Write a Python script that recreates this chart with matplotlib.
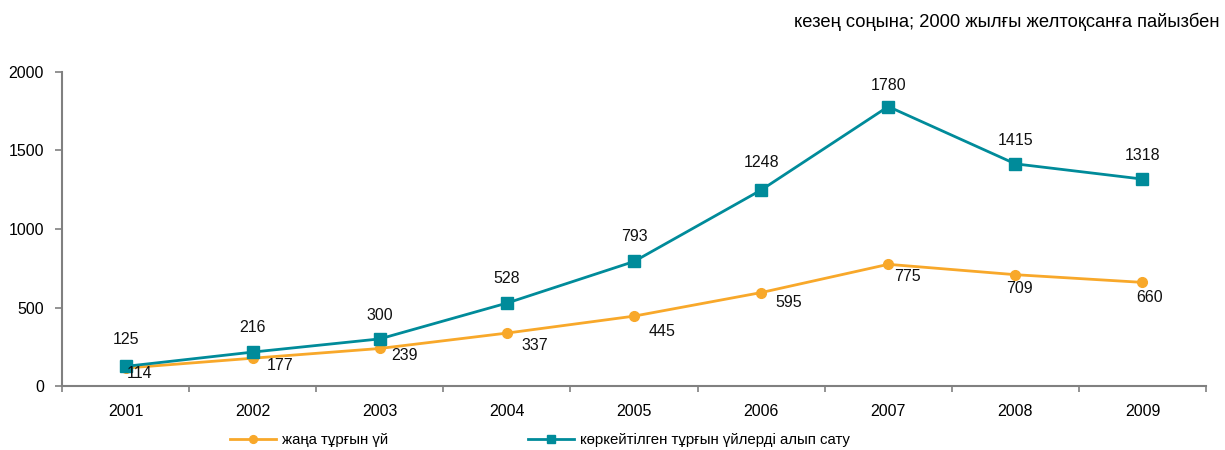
import matplotlib.pyplot as plt
import numpy as np

years = ['2001', '2002', '2003', '2004', '2005', '2006', '2007', '2008', '2009']
new_homes = [114, 177, 239, 337, 445, 595, 775, 709, 660]
resale = [125, 216, 300, 528, 793, 1248, 1780, 1415, 1318]
new_label = 'жаңа тұрғын үй'
resale_label = 'көркейтілген тұрғын үйлерді алып сату'
note = 'кезең соңына; 2000 жылғы желтоқсанға пайызбен'

# label offsets in points (dx, dy)
new_offsets = [(10, -4), (20, -5), (18, -5), (20, -9), (20, -11), (20, -7), (14, -9), (3, -10), (5, -11)]
resale_offsets = [(0, 19), (0, 18), (0, 17), (0, 18), (0, 18), (0, 20), (0, 15), (0, 17), (0, 17)]

orange = '#F8A82A'
teal = '#008B9A'
grey = '#808080'

plt.rcParams['font.family'] = ['Liberation Sans', 'DejaVu Sans']
plt.rcParams['font.size'] = 11.5

fig = plt.figure(figsize=(12.25, 4.5), dpi=100)
ax = fig.add_axes([62/1225, 1-386/450, (1206-62)/1225, (386-72)/450])

x = np.arange(len(years))
l1, = ax.plot(x, new_homes, color=orange, lw=2, marker='o', ms=7, label=new_label)
l2, = ax.plot(x, resale, color=teal, lw=2, marker='s', ms=8, label=resale_label)

for xi, v, (dx, dy) in zip(x, new_homes, new_offsets):
    ax.annotate(str(v), (xi, v), xytext=(dx, dy), textcoords='offset points',
                ha='center', va='center', fontsize=11.5, color='#111111')
for xi, v, (dx, dy) in zip(x, resale, resale_offsets):
    ax.annotate(str(v), (xi, v), xytext=(dx, dy), textcoords='offset points',
                ha='center', va='center', fontsize=11.5, color='#111111')

ax.set_xlim(-0.5, len(years) - 0.5)
ax.set_ylim(0, 2000)
ax.set_yticks([0, 500, 1000, 1500, 2000])
ax.set_xticks(x)
ax.set_xticklabels(years)
ax.set_xticks(np.arange(-0.5, len(years)), minor=True)
ax.tick_params(axis='x', which='major', length=0, pad=13)
ax.tick_params(axis='x', which='minor', length=4, color=grey, width=1.2)
ax.tick_params(axis='y', length=5, color=grey, width=1.2, pad=8)
for s in ['top', 'right']:
    ax.spines[s].set_visible(False)
for s in ['left', 'bottom']:
    ax.spines[s].set_color(grey)
    ax.spines[s].set_linewidth(1.5)

fig.text(1220/1225, 1-22/450, note, ha='right', va='center', fontsize=13.2)

fig.legend(handles=[l1, l2], loc='center left', bbox_to_anchor=(222/1225, 1-440/450),
           ncol=2, frameon=False, borderpad=0, handlelength=3.1, handletextpad=0.4,
           columnspacing=9.3, fontsize=10.8, markerscale=0.8)

fig.savefig('out.png', dpi=100)
